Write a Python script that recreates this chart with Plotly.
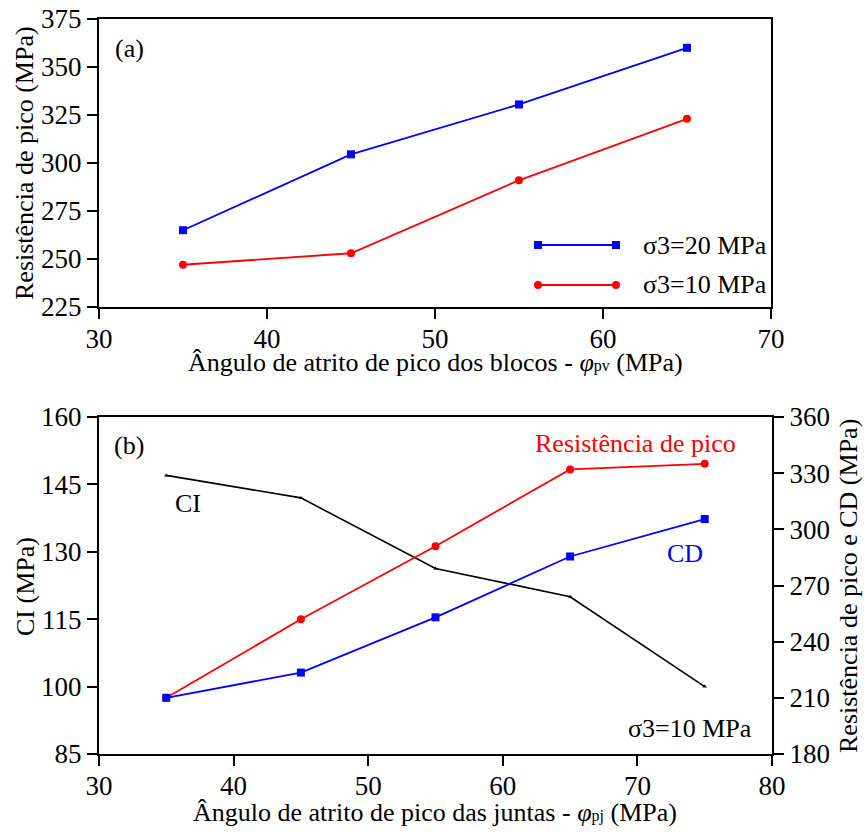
import plotly.graph_objects as go

# Panel (a): peak strength vs. block peak friction angle
phi_pv = [35, 45, 55, 65]
res_s20 = [265, 304.5, 330.5, 360]
res_s10 = [247, 253, 291, 323]

# Panel (b): CI, CD and peak strength vs. joint peak friction angle
phi_pj = [35, 45, 55, 65, 75]
ci_vals = [147, 142, 126.3, 120, 100]
res_pico = [210, 252, 291, 332, 335]
cd_vals = [210, 223.5, 253, 285.5, 305.5]

FONT = "Liberation Serif, Times New Roman, serif"
W, H = 864, 832
BLUE = "#0000ff"
RED = "#ff0000"
TICK_SIZE = 27
TEXT_SIZE = 26

def px_x(v):
    return v / W

def px_y(v):
    return 1 - v / H

fig = go.Figure()

fig.add_trace(go.Scatter(x=phi_pv, y=res_s20, mode="lines+markers",
                         line=dict(color=BLUE, width=1.8),
                         marker=dict(symbol="square", size=8, color=BLUE),
                         xaxis="x", yaxis="y", showlegend=False))
fig.add_trace(go.Scatter(x=phi_pv, y=res_s10, mode="lines+markers",
                         line=dict(color=RED, width=1.8),
                         marker=dict(symbol="circle", size=8, color=RED),
                         xaxis="x", yaxis="y", showlegend=False))

fig.add_trace(go.Scatter(x=phi_pj, y=ci_vals, mode="lines+markers",
                         line=dict(color="black", width=1.6),
                         marker=dict(symbol="triangle-up", size=4, color="black"),
                         xaxis="x2", yaxis="y2", showlegend=False))
fig.add_trace(go.Scatter(x=phi_pj, y=res_pico, mode="lines+markers",
                         line=dict(color=RED, width=1.8),
                         marker=dict(symbol="circle", size=8, color=RED),
                         xaxis="x2", yaxis="y3", showlegend=False))
fig.add_trace(go.Scatter(x=phi_pj, y=cd_vals, mode="lines+markers",
                         line=dict(color=BLUE, width=1.8),
                         marker=dict(symbol="square", size=8, color=BLUE),
                         xaxis="x2", yaxis="y3", showlegend=False))

axis_common = dict(showgrid=False, zeroline=False, showline=True, linecolor="black",
                   linewidth=2, ticks="outside", ticklen=10, tickwidth=1.6,
                   tickcolor="black", automargin=False,
                   tickfont=dict(family=FONT, size=TICK_SIZE, color="black"))

fig.update_layout(
    template="none",
    width=W, height=H,
    margin=dict(l=0, r=0, t=0, b=0, autoexpand=False),
    plot_bgcolor="white", paper_bgcolor="white",
    font=dict(family=FONT, color="black"),
    xaxis=dict(domain=[px_x(99), px_x(771)], range=[30, 70], dtick=10,
               anchor="y", mirror=True, ticklabelstandoff=-3, **axis_common),
    yaxis=dict(domain=[px_y(307), px_y(19)], range=[225, 375], tick0=225, dtick=25,
               anchor="x", mirror=True, **axis_common),
    xaxis2=dict(domain=[px_x(99), px_x(772)], range=[30, 80], dtick=10,
                anchor="y2", mirror=True, ticklabelstandoff=-3, **axis_common),
    yaxis2=dict(domain=[px_y(754), px_y(417)], range=[85, 160], tick0=85, dtick=15,
                anchor="x2", **axis_common),
    yaxis3=dict(range=[180, 360], tick0=180, dtick=30, overlaying="y2", side="right",
                anchor="x2", **axis_common),
)

def txt(x, y, s, size=TEXT_SIZE, color="black", anchor="center", angle=0):
    fig.add_annotation(x=px_x(x), y=px_y(y), xref="paper", yref="paper", text=s,
                       showarrow=False, xanchor=anchor, yanchor="middle",
                       textangle=angle,
                       font=dict(family=FONT, size=size, color=color))

def phi(sub):
    # italic phi followed by a small, baseline-level subscript
    return f'<i>φ</i><span style="font-size:16px">{sub}</span>'

# Axis titles
txt(24, 163, "Resistência de pico (MPa)", angle=-90)
txt(435, 363, f"Ângulo de atrito de pico dos blocos - {phi('pv')} (MPa)")
txt(25, 587, "CI (MPa)", angle=-90)
txt(848, 586, "Resistência de pico e CD (MPa)", angle=-90)
txt(435, 812, f"Ângulo de atrito de pico das juntas - {phi('pj')} (MPa)")

# Panel labels and curve labels
txt(129, 48, "(a)")
txt(129, 445, "(b)")
txt(188, 503, "CI")
txt(635, 443, "Resistência de pico", color=RED)
txt(685, 553, "CD", color=BLUE)
txt(690, 728, "σ3=10 MPa")

# Legend of panel (a): line sample with a marker at each end
for yk, col, sym, lab in [(245, BLUE, "rect", "σ3=20 MPa"), (285, RED, "circle", "σ3=10 MPa")]:
    fig.add_shape(type="line", xref="paper", yref="paper",
                  x0=px_x(538), x1=px_x(616), y0=px_y(yk), y1=px_y(yk),
                  line=dict(color=col, width=1.8))
    for xk in (538, 616):
        fig.add_shape(type=sym, xref="paper", yref="paper",
                      x0=px_x(xk - 4), x1=px_x(xk + 4), y0=px_y(yk + 4), y1=px_y(yk - 4),
                      fillcolor=col, line=dict(color=col, width=0))
    txt(641, yk, lab, anchor="left")

fig.write_html("out.html")
